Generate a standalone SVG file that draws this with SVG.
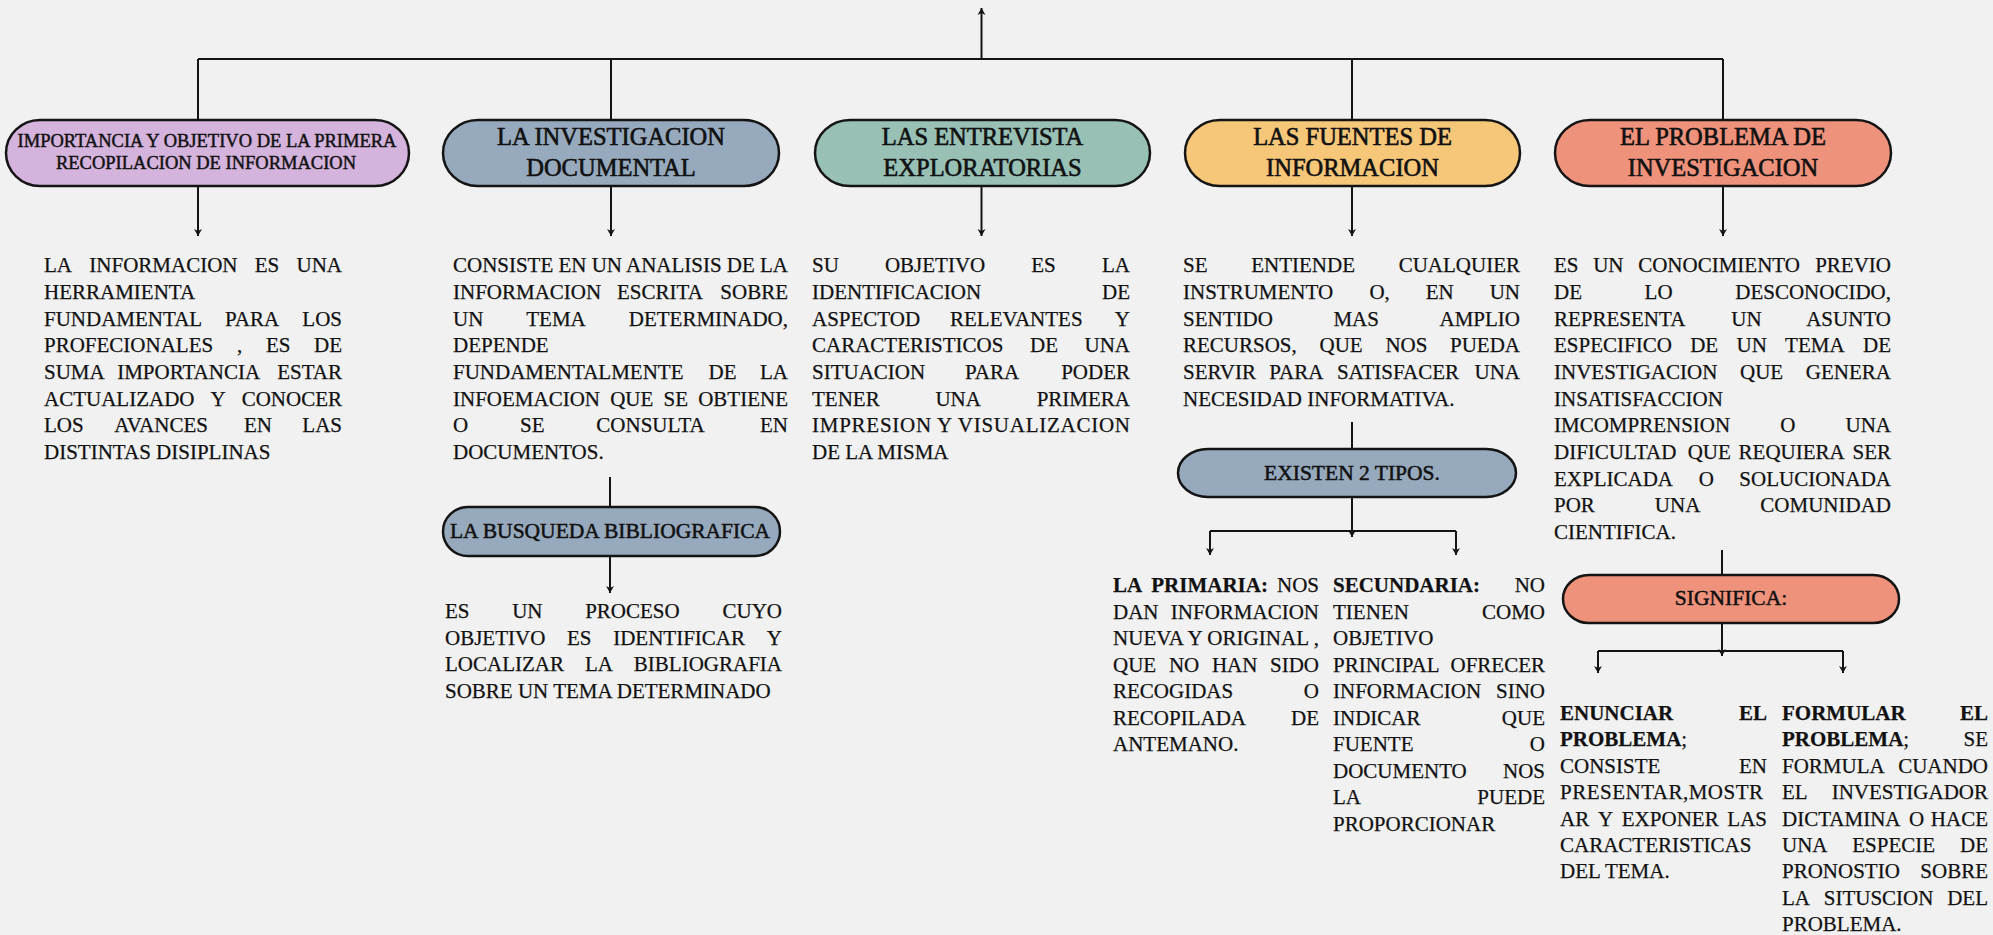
<svg xmlns="http://www.w3.org/2000/svg" width="1993" height="935" viewBox="0 0 1993 935">
<style>
.t{font-family:"Liberation Serif","Times New Roman",serif;font-size:21px;fill:#111;stroke:#111;stroke-width:0.25}
.b{font-weight:bold}
.e{text-anchor:end}
.ti{font-family:"Liberation Serif","Times New Roman",serif;font-size:24.5px;fill:#111;stroke:#111;stroke-width:0.6;text-anchor:middle}
.ts{font-family:"Liberation Serif","Times New Roman",serif;font-size:18.5px;fill:#111;stroke:#111;stroke-width:0.45;text-anchor:middle}
.tm{font-family:"Liberation Serif","Times New Roman",serif;font-size:21.5px;fill:#111;stroke:#111;stroke-width:0.5;text-anchor:middle}
.nd{stroke:#141414;stroke-width:2.5}
.c{stroke:#141414;stroke-width:2;fill:none}
</style>
<defs>
<marker id="ah" viewBox="-8 -5 9 10" refX="0" refY="0" markerWidth="9" markerHeight="10" markerUnits="userSpaceOnUse" orient="auto">
<path d="M0,0 L-7,-4 L-5,0 L-7,4 Z" fill="#141414"/>
</marker>
</defs>
<rect x="0" y="0" width="1993" height="935" fill="#F1F1F1"/>

<g id="connectors">
<line class="c" x1="981.5" y1="59" x2="981.5" y2="8" marker-end="url(#ah)"/>
<line class="c" x1="198" y1="59" x2="1723" y2="59" stroke-width="2.5"/>
<line class="c" x1="198" y1="59" x2="198" y2="120"/>
<line class="c" x1="611" y1="59" x2="611" y2="120"/>
<line class="c" x1="1352" y1="59" x2="1352" y2="120"/>
<line class="c" x1="1723" y1="59" x2="1723" y2="120"/>
<line class="c" x1="198" y1="186" x2="198" y2="236" marker-end="url(#ah)"/>
<line class="c" x1="611" y1="186" x2="611" y2="236" marker-end="url(#ah)"/>
<line class="c" x1="981.5" y1="186" x2="981.5" y2="236" marker-end="url(#ah)"/>
<line class="c" x1="1352" y1="186" x2="1352" y2="236" marker-end="url(#ah)"/>
<line class="c" x1="1723" y1="186" x2="1723" y2="236" marker-end="url(#ah)"/>
<line class="c" x1="610" y1="477" x2="610" y2="507"/>
<line class="c" x1="610" y1="556" x2="610" y2="593" marker-end="url(#ah)"/>
<line class="c" x1="1352" y1="422" x2="1352" y2="449"/>
<line class="c" x1="1352" y1="497" x2="1352" y2="537" marker-end="url(#ah)"/>
<line class="c" x1="1210" y1="531" x2="1456" y2="531"/>
<line class="c" x1="1210" y1="531" x2="1210" y2="555" marker-end="url(#ah)"/>
<line class="c" x1="1456" y1="531" x2="1456" y2="555" marker-end="url(#ah)"/>
<line class="c" x1="1722" y1="550" x2="1722" y2="575"/>
<line class="c" x1="1722" y1="623" x2="1722" y2="656" marker-end="url(#ah)"/>
<line class="c" x1="1598" y1="651" x2="1843" y2="651"/>
<line class="c" x1="1598" y1="651" x2="1598" y2="673" marker-end="url(#ah)"/>
<line class="c" x1="1843" y1="651" x2="1843" y2="673" marker-end="url(#ah)"/>
</g>

<g id="node-importancia">
<rect class="nd" x="6" y="120" width="403" height="66" rx="34" ry="33" fill="#D4B3DC"/>
<text class="ts" x="207" y="146.7">IMPORTANCIA Y OBJETIVO DE LA PRIMERA</text>
<text class="ts" x="206" y="169">RECOPILACION DE INFORMACION</text>
</g>
<g id="node-investigacion">
<rect class="nd" x="443" y="120" width="336" height="66" rx="35" ry="33" fill="#97AABD"/>
<text class="ti" x="611" y="145">LA INVESTIGACION</text>
<text class="ti" x="611" y="176">DOCUMENTAL</text>
</g>
<g id="node-entrevista">
<rect class="nd" x="815" y="120" width="335" height="66" rx="35" ry="33" fill="#98C0B5"/>
<text class="ti" x="982.5" y="145">LAS ENTREVISTA</text>
<text class="ti" x="982.5" y="176">EXPLORATORIAS</text>
</g>
<g id="node-fuentes">
<rect class="nd" x="1185" y="120" width="335" height="66" rx="35" ry="33" fill="#F6C679"/>
<text class="ti" x="1352.5" y="145">LAS FUENTES DE</text>
<text class="ti" x="1352.5" y="176">INFORMACION</text>
</g>
<g id="node-problema">
<rect class="nd" x="1555" y="120" width="336" height="66" rx="35" ry="33" fill="#EF927B"/>
<text class="ti" x="1723" y="145">EL PROBLEMA DE</text>
<text class="ti" x="1723" y="176">INVESTIGACION</text>
</g>
<g id="node-busqueda">
<rect class="nd" x="443" y="507" width="337" height="49" rx="25" ry="24.5" fill="#97AABD"/>
<text class="tm" x="610" y="538" font-size="21">LA BUSQUEDA BIBLIOGRAFICA</text>
</g>
<g id="node-existen">
<rect class="nd" x="1178" y="449" width="338" height="48" rx="30" ry="24" fill="#97AABD"/>
<text class="tm" x="1352" y="480">EXISTEN 2 TIPOS.</text>
</g>
<g id="node-significa">
<rect class="nd" x="1563" y="575" width="336" height="48" rx="26" ry="24" fill="#EF927B"/>
<text class="tm" x="1731" y="605">SIGNIFICA:</text>
</g>

<g id="text-importancia">
<text class="t" y="272.3"><tspan x="44">LA</tspan><tspan x="89.3">INFORMACION</tspan><tspan x="254.8">ES</tspan></text><text class="t e" x="342" y="272.3">UNA</text>
<text class="t" x="44" y="299">HERRAMIENTA</text>
<text class="t" y="325.7"><tspan x="44">FUNDAMENTAL</tspan><tspan x="225.1">PARA</tspan></text><text class="t e" x="342" y="325.7">LOS</text>
<text class="t" y="352.3"><tspan x="44">PROFECIONALES</tspan><tspan x="236.9">,</tspan><tspan x="265.9">ES</tspan></text><text class="t e" x="342" y="352.3">DE</text>
<text class="t" y="379"><tspan x="44">SUMA</tspan><tspan x="117.2">IMPORTANCIA</tspan></text><text class="t e" x="342" y="379">ESTAR</text>
<text class="t" y="405.7"><tspan x="44">ACTUALIZADO</tspan><tspan x="210.5">Y</tspan></text><text class="t e" x="342" y="405.7">CONOCER</text>
<text class="t" y="432.3"><tspan x="44">LOS</tspan><tspan x="114.2">AVANCES</tspan><tspan x="243.9">EN</tspan></text><text class="t e" x="342" y="432.3">LAS</text>
<text class="t" x="44" y="459">DISTINTAS DISIPLINAS</text>
</g>

<g id="text-investigacion">
<text class="t" x="453" y="272.3" textLength="335" lengthAdjust="spacing">CONSISTE EN UN ANALISIS DE LA</text>
<text class="t" y="299"><tspan x="453">INFORMACION</tspan><tspan x="617">ESCRITA</tspan></text><text class="t e" x="788" y="299">SOBRE</text>
<text class="t" y="325.7"><tspan x="453">UN</tspan><tspan x="526.3">TEMA</tspan></text><text class="t e" x="788" y="325.7">DETERMINADO,</text>
<text class="t" x="453" y="352.3">DEPENDE</text>
<text class="t" y="379"><tspan x="453">FUNDAMENTALMENTE</tspan><tspan x="708.5">DE</tspan></text><text class="t e" x="788" y="379">LA</text>
<text class="t" y="405.7"><tspan x="453">INFOEMACION</tspan><tspan x="610.2">QUE</tspan><tspan x="663.6">SE</tspan></text><text class="t e" x="788" y="405.7">OBTIENE</text>
<text class="t" y="432.3"><tspan x="453">O</tspan><tspan x="520">SE</tspan><tspan x="596.3">CONSULTA</tspan></text><text class="t e" x="788" y="432.3">EN</text>
<text class="t" x="453" y="459">DOCUMENTOS.</text>
</g>

<g id="text-entrevista">
<text class="t" y="272.3"><tspan x="812">SU</tspan><tspan x="884.9">OBJETIVO</tspan><tspan x="1031.3">ES</tspan></text><text class="t e" x="1130" y="272.3">LA</text>
<text class="t" x="812" y="299">IDENTIFICACION</text><text class="t e" x="1130" y="299">DE</text>
<text class="t" y="325.7"><tspan x="812">ASPECTOD</tspan><tspan x="950">RELEVANTES</tspan></text><text class="t e" x="1130" y="325.7">Y</text>
<text class="t" y="352.3"><tspan x="812">CARACTERISTICOS</tspan><tspan x="1030">DE</tspan></text><text class="t e" x="1130" y="352.3">UNA</text>
<text class="t" y="379"><tspan x="812">SITUACION</tspan><tspan x="965.1">PARA</tspan></text><text class="t e" x="1130" y="379">PODER</text>
<text class="t" y="405.7"><tspan x="812">TENER</tspan><tspan x="935.4">UNA</tspan></text><text class="t e" x="1130" y="405.7">PRIMERA</text>
<text class="t" x="812" y="432.3" textLength="318" lengthAdjust="spacing">IMPRESION Y VISUALIZACION</text>
<text class="t" x="812" y="459">DE LA MISMA</text>
</g>

<g id="text-fuentes">
<text class="t" y="272.3"><tspan x="1183">SE</tspan><tspan x="1251.2">ENTIENDE</tspan></text><text class="t e" x="1520" y="272.3">CUALQUIER</text>
<text class="t" y="299"><tspan x="1183">INSTRUMENTO</tspan><tspan x="1369.4">O,</tspan><tspan x="1425.7">EN</tspan></text><text class="t e" x="1520" y="299">UN</text>
<text class="t" y="325.7"><tspan x="1183">SENTIDO</tspan><tspan x="1333.4">MAS</tspan></text><text class="t e" x="1520" y="325.7">AMPLIO</text>
<text class="t" y="352.3"><tspan x="1183">RECURSOS,</tspan><tspan x="1319.5">QUE</tspan><tspan x="1385.4">NOS</tspan></text><text class="t e" x="1520" y="352.3">PUEDA</text>
<text class="t" y="379"><tspan x="1183">SERVIR</tspan><tspan x="1269.3">PARA</tspan><tspan x="1336.9">SATISFACER</tspan></text><text class="t e" x="1520" y="379">UNA</text>
<text class="t" x="1183" y="405.7">NECESIDAD INFORMATIVA.</text>
</g>

<g id="text-problema">
<text class="t" y="272.3"><tspan x="1554">ES</tspan><tspan x="1593.2">UN</tspan><tspan x="1638.2">CONOCIMIENTO</tspan></text><text class="t e" x="1891" y="272.3">PREVIO</text>
<text class="t" y="299"><tspan x="1554">DE</tspan><tspan x="1644.6">LO</tspan></text><text class="t e" x="1891" y="299">DESCONOCIDO,</text>
<text class="t" y="325.7"><tspan x="1554">REPRESENTA</tspan><tspan x="1731.3">UN</tspan></text><text class="t e" x="1891" y="325.7">ASUNTO</text>
<text class="t" y="352.3"><tspan x="1554">ESPECIFICO</tspan><tspan x="1690.2">DE</tspan><tspan x="1736.5">UN</tspan><tspan x="1785.1">TEMA</tspan></text><text class="t e" x="1891" y="352.3">DE</text>
<text class="t" y="379"><tspan x="1554">INVESTIGACION</tspan><tspan x="1740">QUE</tspan></text><text class="t e" x="1891" y="379">GENERA</text>
<text class="t" x="1554" y="405.7">INSATISFACCION</text>
<text class="t" y="432.3"><tspan x="1554">IMCOMPRENSION</tspan><tspan x="1780.3">O</tspan></text><text class="t e" x="1891" y="432.3">UNA</text>
<text class="t" y="459"><tspan x="1554">DIFICULTAD</tspan><tspan x="1687.7">QUE</tspan><tspan x="1738.6">REQUIERA</tspan></text><text class="t e" x="1891" y="459">SER</text>
<text class="t" y="485.7"><tspan x="1554">EXPLICADA</tspan><tspan x="1698.8">O</tspan></text><text class="t e" x="1891" y="485.7">SOLUCIONADA</text>
<text class="t" y="512.3"><tspan x="1554">POR</tspan><tspan x="1654.8">UNA</tspan></text><text class="t e" x="1891" y="512.3">COMUNIDAD</text>
<text class="t" x="1554" y="539">CIENTIFICA.</text>
</g>

<g id="text-busqueda">
<text class="t" y="618"><tspan x="445">ES</tspan><tspan x="512.2">UN</tspan><tspan x="585.2">PROCESO</tspan></text><text class="t e" x="782" y="618">CUYO</text>
<text class="t" y="644.6"><tspan x="445">OBJETIVO</tspan><tspan x="567">ES</tspan><tspan x="613.2">IDENTIFICAR</tspan></text><text class="t e" x="782" y="644.6">Y</text>
<text class="t" y="671.2"><tspan x="445">LOCALIZAR</tspan><tspan x="584.9">LA</tspan></text><text class="t e" x="782" y="671.2">BIBLIOGRAFIA</text>
<text class="t" x="445" y="697.8">SOBRE UN TEMA DETERMINADO</text>
</g>

<g id="text-primaria">
<text class="t" y="592"><tspan x="1113" class="b">LA</tspan><tspan x="1151.3" class="b">PRIMARIA:</tspan></text><text class="t e" x="1319" y="592">NOS</text>
<text class="t" x="1113" y="618.5">DAN</text><text class="t e" x="1319" y="618.5">INFORMACION</text>
<text class="t" x="1113" y="645" textLength="206" lengthAdjust="spacing">NUEVA Y ORIGINAL ,</text>
<text class="t" y="671.5"><tspan x="1113">QUE</tspan><tspan x="1168.9">NO</tspan><tspan x="1211.9">HAN</tspan></text><text class="t e" x="1319" y="671.5">SIDO</text>
<text class="t" x="1113" y="698">RECOGIDAS</text><text class="t e" x="1319" y="698">O</text>
<text class="t" x="1113" y="724.5">RECOPILADA</text><text class="t e" x="1319" y="724.5">DE</text>
<text class="t" x="1113" y="751">ANTEMANO.</text>
</g>

<g id="text-secundaria">
<text class="t b" x="1333" y="592">SECUNDARIA:</text><text class="t e" x="1545" y="592">NO</text>
<text class="t" x="1333" y="618.5">TIENEN</text><text class="t e" x="1545" y="618.5">COMO</text>
<text class="t" x="1333" y="645">OBJETIVO</text>
<text class="t" x="1333" y="671.5">PRINCIPAL</text><text class="t e" x="1545" y="671.5">OFRECER</text>
<text class="t" x="1333" y="698">INFORMACION</text><text class="t e" x="1545" y="698">SINO</text>
<text class="t" x="1333" y="724.5">INDICAR</text><text class="t e" x="1545" y="724.5">QUE</text>
<text class="t" x="1333" y="751">FUENTE</text><text class="t e" x="1545" y="751">O</text>
<text class="t" x="1333" y="777.5">DOCUMENTO</text><text class="t e" x="1545" y="777.5">NOS</text>
<text class="t" x="1333" y="804">LA</text><text class="t e" x="1545" y="804">PUEDE</text>
<text class="t" x="1333" y="830.5">PROPORCIONAR</text>
</g>

<g id="text-enunciar">
<text class="t b" x="1560" y="720">ENUNCIAR</text><text class="t b e" x="1767" y="720">EL</text>
<text class="t" x="1560" y="746.4"><tspan class="b">PROBLEMA</tspan>;</text>
<text class="t" x="1560" y="772.8">CONSISTE</text><text class="t e" x="1767" y="772.8">EN</text>
<text class="t" x="1560" y="799.2" textLength="203" lengthAdjust="spacing">PRESENTAR,MOSTR</text>
<text class="t" y="825.6"><tspan x="1560">AR</tspan><tspan x="1597.9">Y</tspan><tspan x="1621.8">EXPONER</tspan></text><text class="t e" x="1767" y="825.6">LAS</text>
<text class="t" x="1560" y="852">CARACTERISTICAS</text>
<text class="t" x="1560" y="878.4">DEL TEMA.</text>
</g>

<g id="text-formular">
<text class="t b" x="1782" y="720">FORMULAR</text><text class="t b e" x="1988" y="720">EL</text>
<text class="t" x="1782" y="746.4"><tspan class="b">PROBLEMA</tspan>;</text><text class="t e" x="1988" y="746.4">SE</text>
<text class="t" x="1782" y="772.8">FORMULA</text><text class="t e" x="1988" y="772.8">CUANDO</text>
<text class="t" x="1782" y="799.2">EL</text><text class="t e" x="1988" y="799.2">INVESTIGADOR</text>
<text class="t" y="825.6"><tspan x="1782">DICTAMINA</tspan><tspan x="1908.9">O</tspan></text><text class="t e" x="1988" y="825.6">HACE</text>
<text class="t" y="852"><tspan x="1782">UNA</tspan><tspan x="1852.3">ESPECIE</tspan></text><text class="t e" x="1988" y="852">DE</text>
<text class="t" x="1782" y="878.4">PRONOSTIO</text><text class="t e" x="1988" y="878.4">SOBRE</text>
<text class="t" y="904.8"><tspan x="1782">LA</tspan><tspan x="1823.75">SITUSCION</tspan></text><text class="t e" x="1988" y="904.8">DEL</text>
<text class="t" x="1782" y="931.2">PROBLEMA.</text>
</g>
</svg>
